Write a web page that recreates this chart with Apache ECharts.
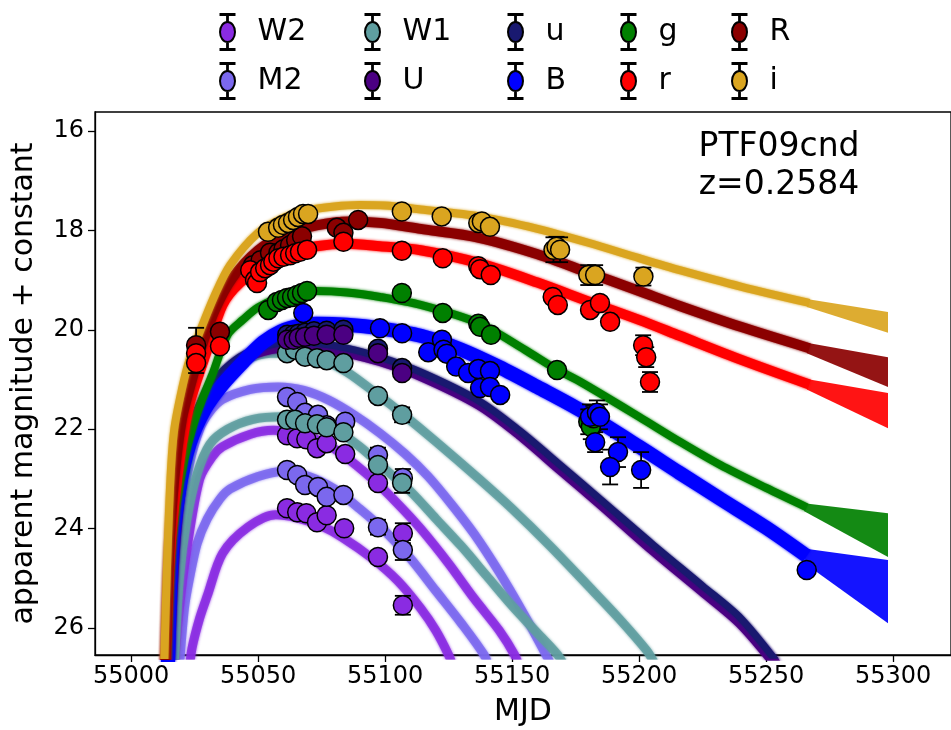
<!DOCTYPE html>
<html><head><meta charset="utf-8">
<script src="https://cdn.jsdelivr.net/npm/echarts@6/dist/echarts.min.js"></script>
<style>html,body{margin:0;padding:0;background:#fff}#c{width:951px;height:730px}</style>
</head><body><div id="c"></div>
<script>
// ---------------- axis ticks ----------------
const xTicks = [55000, 55050, 55100, 55150, 55200, 55250, 55300];
const yTicks = [16, 18, 20, 22, 24, 26];

// ---------------- legend layout (column-major like the original) ----------------
const legendCols = [['W2', 'M2'], ['W1', 'U'], ['u', 'B'], ['g', 'r'], ['R', 'i']];

// ---------------- observed points [MJD, mag, err] ----------------
const i_pts = [[55053.9,18.03,0.05],[55057.9,17.95,0.05],[55059.8,17.89,0.05],[55061.8,17.85,0.05],[55063.8,17.79,0.05],[55065.7,17.73,0.05],[55067.7,17.67,0.05],[55069.7,17.67,0.05],[55106.6,17.62,0.05],[55122.3,17.72,0.05],[55136.7,17.85,0.05],[55138.1,17.82,0.05],[55141.3,17.93,0.05],[55166.3,18.39,0.25],[55167.5,18.33,0.2],[55168.9,18.39,0.25],[55180.0,18.9,0.2],[55182.7,18.9,0.2],[55201.7,18.93,0.18]];
const R_pts = [[55025.6,20.31,0.35],[55035.0,20.04,0.1],[55048.0,18.7,0.05],[55051.0,18.6,0.05],[55054.7,18.45,0.05],[55058.0,18.45,0.05],[55060.0,18.38,0.05],[55062.6,18.3,0.05],[55065.0,18.2,0.05],[55067.3,18.12,0.05],[55081.0,17.95,0.05],[55083.6,18.05,0.05],[55089.4,17.79,0.05]];
const r_pts = [[55025.6,20.47,0.2],[55025.6,20.67,0.2],[55035.0,20.33,0.1],[55046.9,18.8,0.05],[55048.8,19.0,0.05],[55049.6,19.06,0.05],[55050.8,18.84,0.05],[55052.8,18.76,0.05],[55054.7,18.7,0.05],[55056.0,18.63,0.05],[55058.0,18.56,0.05],[55060.0,18.53,0.05],[55062.6,18.5,0.05],[55064.6,18.46,0.05],[55066.5,18.43,0.05],[55069.3,18.39,0.05],[55083.6,18.23,0.05],[55106.6,18.41,0.05],[55122.7,18.56,0.05],[55136.7,18.72,0.05],[55137.4,18.78,0.05],[55141.6,18.9,0.05],[55166.0,19.34,0.05],[55168.0,19.5,0.05],[55180.7,19.6,0.05],[55184.6,19.46,0.05],[55188.6,19.84,0.05],[55201.6,20.31,0.2],[55202.8,20.55,0.2],[55204.3,21.05,0.2]];
const g_pts = [[55054.0,19.6,0.05],[55057.4,19.44,0.05],[55059.4,19.4,0.05],[55061.4,19.36,0.05],[55063.4,19.34,0.05],[55065.4,19.3,0.05],[55067.3,19.26,0.05],[55069.3,19.22,0.05],[55106.6,19.26,0.05],[55122.7,19.66,0.05],[55136.7,19.88,0.05],[55137.4,19.94,0.05],[55141.7,20.1,0.05],[55167.7,20.81,0.05],[55180.0,21.85,0.25],[55181.0,21.95,0.25],[55182.0,21.78,0.25]];
const B_pts = [[55067.8,19.66,0.05],[55098.0,19.97,0.05],[55106.7,20.07,0.05],[55117.0,20.45,0.05],[55122.4,20.2,0.05],[55123.0,20.4,0.05],[55124.3,20.48,0.05],[55128.0,20.74,0.05],[55132.7,20.87,0.05],[55136.7,20.79,0.12],[55141.3,20.83,0.12],[55137.4,21.17,0.05],[55141.3,21.15,0.05],[55145.3,21.31,0.05],[55180.7,21.75,0.25],[55183.4,21.67,0.25],[55184.6,21.75,0.25],[55182.7,22.26,0.2],[55191.7,22.46,0.3],[55188.6,22.76,0.35],[55200.8,22.82,0.36],[55266.0,24.83,0.05]];
const u_pts = [[55061.5,20.1,0.05],[55064.0,20.1,0.05],[55066.0,20.08,0.05],[55068.5,20.06,0.05],[55072.0,20.03,0.05],[55077.0,20.02,0.05],[55083.6,20.0,0.05],[55097.2,20.38,0.05],[55106.7,20.77,0.05]];
const U_pts = [[55061.5,20.2,0.05],[55064.0,20.2,0.05],[55066.0,20.16,0.05],[55068.5,20.14,0.05],[55072.0,20.12,0.05],[55077.0,20.1,0.05],[55083.6,20.1,0.05],[55097.2,20.47,0.05],[55106.7,20.87,0.05]];
const W1a_pts = [[55061.4,20.47,0.05],[55064.6,20.4,0.05],[55068.5,20.54,0.05],[55073.2,20.57,0.05],[55077.0,20.61,0.05],[55083.6,20.67,0.05],[55097.2,21.33,0.05],[55106.7,21.71,0.15]];
const W1b_pts = [[55061.4,21.81,0.05],[55064.6,21.81,0.05],[55068.5,21.88,0.05],[55073.2,21.9,0.05],[55077.0,21.96,0.05],[55083.6,22.06,0.05],[55097.2,22.72,0.05],[55106.7,23.08,0.2]];
const M2a_pts = [[55061.4,21.35,0.05],[55065.4,21.45,0.05],[55068.5,21.67,0.05],[55073.6,21.71,0.05],[55077.0,21.92,0.05],[55084.3,21.85,0.05],[55097.2,22.52,0.15],[55107.0,22.98,0.18]];
const M2b_pts = [[55061.4,22.82,0.05],[55065.4,22.92,0.05],[55068.5,23.12,0.05],[55073.6,23.16,0.05],[55077.0,23.36,0.05],[55083.6,23.32,0.05],[55097.2,23.97,0.15],[55107.0,24.43,0.2]];
const W2a_pts = [[55061.4,22.12,0.05],[55065.4,22.18,0.05],[55069.0,22.2,0.05],[55073.2,22.38,0.05],[55077.0,22.28,0.05],[55084.3,22.5,0.05],[55097.2,23.08,0.05],[55107.0,24.09,0.2]];
const W2b_pts = [[55061.4,23.59,0.05],[55065.4,23.67,0.05],[55069.0,23.69,0.05],[55073.2,23.87,0.05],[55077.0,23.73,0.05],[55083.9,23.99,0.05],[55097.2,24.57,0.05],[55107.0,25.54,0.19]];

// ---------------- model light curves [MJD, mag] ----------------
const i_model = [[55013,26.8],[55014,25.0],[55015.5,23.0],[55017,22.0],[55020,21.2],[55023,20.6],[55027,20.05],[55033,19.3],[55039,18.7],[55050,18.05],[55060,17.75],[55069,17.6],[55080,17.52],[55090,17.49],[55100,17.5],[55114,17.58],[55137,17.72],[55160,17.97],[55180,18.25],[55200,18.56],[55216,18.8],[55240,19.13],[55267,19.46]];
const R_model = [[55013.5,26.8],[55015,24.5],[55017,23.0],[55020,21.8],[55024,21.0],[55028,20.3],[55033,19.6],[55040,18.95],[55050,18.4],[55060,18.1],[55073,17.9],[55086,17.82],[55098,17.85],[55114,17.97],[55137,18.15],[55160,18.48],[55180,18.85],[55200,19.22],[55216,19.52],[55240,19.94],[55267,20.37]];
const r_model = [[55013.5,26.8],[55015,24.8],[55017,23.5],[55020,22.3],[55023,21.5],[55026,21.0],[55030,20.4],[55036,19.5],[55043,19.05],[55052,18.75],[55063,18.45],[55073,18.32],[55085,18.27],[55098,18.32],[55114,18.4],[55137,18.66],[55160,19.05],[55180,19.43],[55200,19.8],[55216,20.12],[55240,20.6],[55267,21.1]];
const g_model = [[55014,26.8],[55016,24.5],[55018,23.5],[55021,22.6],[55024,22.0],[55028,21.4],[55032,20.9],[55038,20.1],[55044,19.8],[55050,19.55],[55060,19.32],[55073,19.22],[55085,19.25],[55098,19.34],[55114,19.5],[55137,19.87],[55155,20.4],[55167,20.78],[55177,21.05],[55200,21.75],[55216,22.25],[55232,22.72],[55250,23.18],[55266,23.57]];
const B_model = [[55014.5,26.8],[55016,24.5],[55019,23.2],[55023,22.3],[55029,21.6],[55036,21.1],[55045,20.6],[55052,20.25],[55059,20.03],[55066,19.92],[55073,19.88],[55085,19.9],[55098,19.97],[55114,20.12],[55130,20.4],[55145,20.75],[55160,21.15],[55177,21.62],[55200,22.35],[55216,22.88],[55232,23.4],[55250,23.98],[55266,24.55]];
const U_model = [[55015,26.8],[55017,24.5],[55020,23.0],[55024,22.0],[55030,21.3],[55037,20.85],[55045,20.55],[55055,20.38],[55065,20.32],[55075,20.35],[55085,20.45],[55098,20.62],[55114,20.92],[55137,21.5],[55153,22.1],[55169,22.8],[55185,23.5],[55205,24.4],[55225,25.25],[55240,25.9],[55255,26.8]];
const u_model = [[55015,26.8],[55017,24.4],[55020,22.9],[55024,21.9],[55030,21.2],[55037,20.78],[55045,20.48],[55055,20.3],[55065,20.25],[55075,20.28],[55085,20.37],[55098,20.55],[55114,20.85],[55137,21.43],[55153,22.03],[55169,22.72],[55185,23.42],[55205,24.3],[55225,25.15],[55240,25.8],[55256,26.8]];
const W1a_model = [[55016,26.8],[55018,24.8],[55021,23.2],[55025,22.0],[55030,21.3],[55037,20.85],[55045,20.6],[55055,20.47],[55065,20.47],[55075,20.6],[55085,20.85],[55097,21.3],[55107,21.7],[55120,22.25],[55137,23.0],[55150,23.6],[55165,24.35],[55180,25.15],[55192,25.8],[55203,26.45],[55206,26.7]];
const W1b_model = [[55017,26.8],[55019,25.0],[55022,23.8],[55026,22.9],[55031,22.3],[55038,22.0],[55048,21.8],[55060,21.75],[55070,21.8],[55080,22.0],[55090,22.35],[55100,22.8],[55110,23.25],[55120,23.8],[55130,24.35],[55140,24.95],[55150,25.55],[55160,26.1],[55168,26.54],[55171,26.8]];
const M2a_model = [[55016,26.8],[55018,25.2],[55020,23.7],[55023,22.7],[55027,22.0],[55031,21.65],[55036,21.4],[55047,21.2],[55058,21.15],[55068,21.22],[55078,21.42],[55088,21.72],[55098,22.08],[55108,22.5],[55117,22.95],[55126,23.5],[55135,24.1],[55145,24.88],[55155,25.75],[55163,26.5],[55166,26.8]];
const M2b_model = [[55019,26.8],[55021,25.6],[55023,25.0],[55026,24.3],[55030,23.8],[55035,23.4],[55039,23.2],[55050,22.95],[55060,22.85],[55070,22.95],[55080,23.2],[55090,23.6],[55100,24.05],[55110,24.6],[55120,25.25],[55130,25.9],[55139,26.54],[55141,26.8]];
const W2a_model = [[55017,26.8],[55019,25.6],[55022,24.4],[55027,23.0],[55032,22.55],[55036,22.35],[55047,22.1],[55056,22.02],[55065,22.08],[55075,22.25],[55083,22.5],[55095,23.0],[55105,23.5],[55114,24.0],[55125,24.7],[55135,25.4],[55145,26.05],[55151,26.54],[55153,26.8]];
const W2b_model = [[55023,26.8],[55024,26.4],[55027,25.8],[55030,25.35],[55036,24.5],[55046,23.97],[55057,23.72],[55065,23.78],[55075,23.95],[55083,24.17],[55095,24.6],[55105,25.05],[55114,25.6],[55120,26.05],[55125,26.54],[55127,26.8]];

// late-time spread of the model samples: bright edge / faint edge [MJD, mag]
const i_tail_lo = [[55266,19.38],[55298,19.64]], i_tail_hi = [[55266,19.54],[55298,20.06]];
const R_tail_lo = [[55266,20.26],[55298,20.55]], R_tail_hi = [[55266,20.47],[55298,21.15]];
const r_tail_lo = [[55266,20.99],[55298,21.27]], r_tail_hi = [[55266,21.2],[55298,21.98]];
const g_tail_lo = [[55265,23.49],[55298,23.69]], g_tail_hi = [[55265,23.65],[55298,24.57]];
const B_tail_lo = [[55265,24.4],[55298,24.63]], B_tail_hi = [[55265,24.69],[55298,25.9]];

// ---------------- styling ----------------
const colors = {W2:'#8A2BE2', M2:'#7B68EE', W1:'#5F9EA0', U:'#4B0082', u:'#191970', B:'#0000FF', g:'#008000', r:'#FF0000', R:'#8B0000', i:'#DAA520'};
const uvNames = ['W2', 'M2', 'W1'];
const FONT = 'DejaVu Sans';

const pointSets = [
  ['W2', W2b_pts], ['W2', W2a_pts], ['M2', M2b_pts], ['M2', M2a_pts], ['W1', W1b_pts], ['W1', W1a_pts],
  ['u', u_pts], ['U', U_pts], ['g', g_pts], ['B', B_pts], ['R', R_pts], ['r', r_pts], ['i', i_pts]
];
const modelSets = [
  ['W2', W2b_model, 9], ['M2', M2b_model, 9], ['W2', W2a_model, 9], ['M2', M2a_model, 9],
  ['W1', W1b_model, 9], ['W1', W1a_model, 9], ['U', U_model, 11], ['u', u_model, 7],
  ['B', B_model, 14], ['g', g_model, 8], ['r', r_model, 10], ['R', R_model, 10], ['i', i_model, 8]
];
const tailSets = [
  ['B', B_tail_lo, B_tail_hi], ['g', g_tail_lo, g_tail_hi], ['r', r_tail_lo, r_tail_hi],
  ['R', R_tail_lo, R_tail_hi], ['i', i_tail_lo, i_tail_hi]
];

const series = [];
pointSets.forEach(([name, pts]) => {
  series.push({
    type: 'scatter', name, data: pts, symbol: 'circle', symbolSize: 19, z: 5,
    itemStyle: {color: colors[name], borderColor: '#000', borderWidth: 1.5, opacity: 1},
    emphasis: {disabled: true}
  });
});
function errRender(params, api) {
  const e = api.value(2);
  if (!(e > 0.08)) return;
  const x = api.value(0), y = api.value(1);
  const p1 = api.coord([x, y - e]), p2 = api.coord([x, y + e]);
  const hw = 8, st = {stroke: '#000', lineWidth: 1.8};
  return {type: 'group', children: [
    {type: 'line', shape: {x1: p1[0], y1: p1[1], x2: p2[0], y2: p2[1]}, style: st},
    {type: 'line', shape: {x1: p1[0] - hw, y1: p1[1], x2: p1[0] + hw, y2: p1[1]}, style: st},
    {type: 'line', shape: {x1: p2[0] - hw, y1: p2[1], x2: p2[0] + hw, y2: p2[1]}, style: st}
  ]};
}
pointSets.forEach(([name, pts]) => {
  series.push({type: 'custom', name, data: pts, renderItem: errRender, encode: {x: 0, y: 1}, z: 4, silent: true});
});
modelSets.forEach(([name, d, w]) => {
  const uv = uvNames.includes(name);
  series.push({
    type: 'line', name, data: d, symbol: 'none', smooth: 0.3, z: 2, silent: true,
    lineStyle: {color: colors[name], width: w, opacity: uv ? 0.85 : 1, shadowColor: colors[name], shadowBlur: 3, cap: 'butt'}
  });
});
function tailRender(lo, hi, color) {
  return (params, api) => {
    if (params.dataIndex !== 0) return;
    const pts = lo.map(p => api.coord(p)).concat(hi.slice().reverse().map(p => api.coord(p)));
    return {type: 'polygon', shape: {points: pts}, style: {fill: color, opacity: 0.92}};
  };
}
tailSets.forEach(([name, lo, hi]) => {
  series.push({type: 'custom', name, data: lo, encode: {x: 0, y: 1}, renderItem: tailRender(lo, hi, colors[name]), z: 2, silent: true});
});

const errIcon = 'path://M1,0H15V1H1Z M7.6,1H8.4V8H7.6Z M8,8A7.5,10,0,1,1,8,28A7.5,10,0,1,1,8,8Z M7.6,28H8.4V35H7.6Z M1,35H15V36H1Z';
const colLeft = [219, 364, 507, 620, 731];
const legends = legendCols.map((names, k) => ({
  data: names, orient: 'vertical', left: colLeft[k], top: 13, itemWidth: 16, itemHeight: 36, itemGap: 11,
  icon: errIcon, selectedMode: true, padding: 0,
  textStyle: {fontFamily: FONT, fontSize: 30, color: '#000', padding: [0, 0, 0, 17]}
}));

const chart = echarts.init(document.getElementById('c'), null, {renderer: 'canvas'});
chart.setOption({
  animation: false,
  backgroundColor: '#fff',
  textStyle: {fontFamily: FONT},
  grid: {left: 95, right: 0, top: 112, bottom: 75, outerBoundsMode: 'none', containLabel: false,
         show: true, borderColor: '#000', borderWidth: 1.3, backgroundColor: 'transparent'},
  legend: legends,
  xAxis: {
    type: 'value', min: 54985.8, max: 55322.8,
    name: 'MJD', nameLocation: 'middle', nameGap: 42,
    nameTextStyle: {fontFamily: FONT, fontSize: 30, color: '#000'},
    axisLine: {show: true, lineStyle: {color: '#000', width: 1.3}},
    axisTick: {show: true, length: 7, lineStyle: {color: '#000', width: 1.3}, customValues: xTicks},
    axisLabel: {fontFamily: FONT, fontSize: 24, color: '#000', margin: 10, customValues: xTicks, formatter: v => String(v)},
    splitLine: {show: false}
  },
  yAxis: {
    type: 'value', inverse: true, min: 15.62, max: 26.54,
    name: 'apparent magnitude + constant', nameLocation: 'middle', nameGap: 56, nameRotate: 90,
    nameTextStyle: {fontFamily: FONT, fontSize: 30, color: '#000'},
    axisLine: {show: true, lineStyle: {color: '#000', width: 1.3}},
    axisTick: {show: true, length: 7, lineStyle: {color: '#000', width: 1.3}, customValues: yTicks},
    axisLabel: {fontFamily: FONT, fontSize: 24, color: '#000', margin: 11, customValues: yTicks, formatter: v => String(v)},
    splitLine: {show: false}
  },
  graphic: [{
    type: 'text', x: 779, y: 128, z: 10,
    style: {text: 'PTF09cnd\nz=0.2584', font: '33px "DejaVu Sans"', fill: '#000', align: 'center', textAlign: 'center', lineHeight: 38}
  }],
  series
});
</script></body></html>
